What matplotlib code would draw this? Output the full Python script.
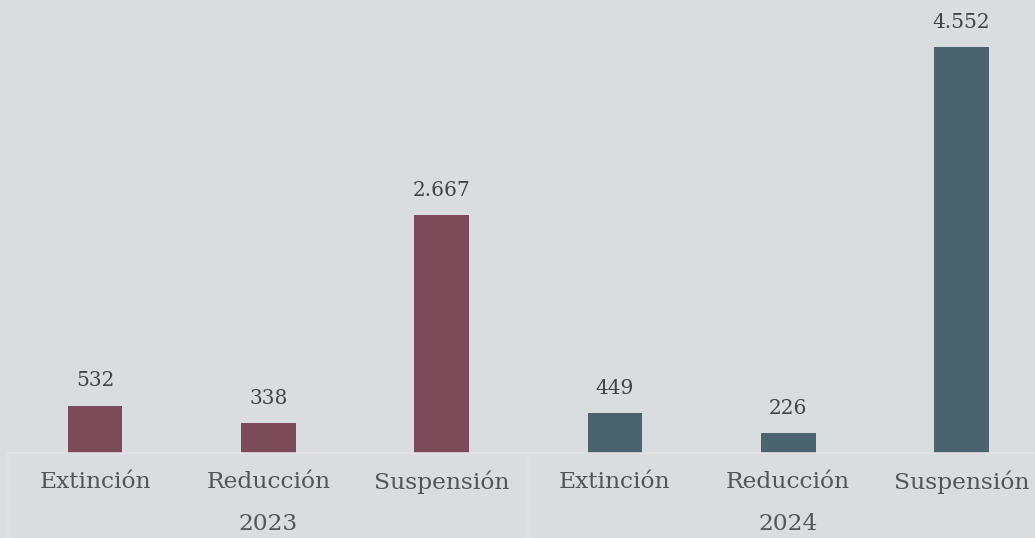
import matplotlib.pyplot as plt
import numpy as np

years = ["2023", "2024"]
categories = ["Extinción", "Reducción", "Suspensión"]
values_2023 = [532, 338, 2667]
values_2024 = [449, 226, 4552]

bg = "#d9dde0"
colors = {"2023": "#7b4b5a", "2024": "#4b636e"}

fig = plt.figure(figsize=(10.35, 5.38), dpi=100)
fig.patch.set_facecolor(bg)
ax = fig.add_axes([0, 85 / 538, 1, 453 / 538])
ax.set_facecolor(bg)

x = np.arange(len(categories) * len(years))
vals = values_2023 + values_2024
cols = [colors["2023"]] * 3 + [colors["2024"]] * 3
ax.bar(x, vals, width=0.315, color=cols, zorder=2)

for xi, v in zip(x, vals):
    ax.text(xi, v + 170, f"{v:,}".replace(",", "."), ha="center", va="bottom",
            fontsize=14.5, color="#444444", family="DejaVu Serif")

ax.set_xlim(-0.548, 5.424)
ax.set_ylim(0, 5079)
ax.axis("off")

trans = ax.get_xaxis_transform()
line_col = "#e3e3e3"
ax.plot([-0.5, 6], [0, 0], color=line_col, lw=1.2, transform=trans, clip_on=False)
for xv in [-0.5, 2.5, 5.5]:
    ax.plot([xv, xv], [0, -0.2], color=line_col, lw=1.2, transform=trans, clip_on=False)

labels = categories * 2
for xi, lab in zip(x, labels):
    ax.text(xi, -29 / 453, lab, ha="center", va="center", transform=trans,
            fontsize=16.8, color="#555555", family="DejaVu Serif")
for i, yr in enumerate(years):
    ax.text(1 + 3 * i, -71 / 453, yr, ha="center", va="center", transform=trans,
            fontsize=16.8, color="#555555", family="DejaVu Serif")

fig.savefig("out.png", dpi=100, facecolor=bg)
